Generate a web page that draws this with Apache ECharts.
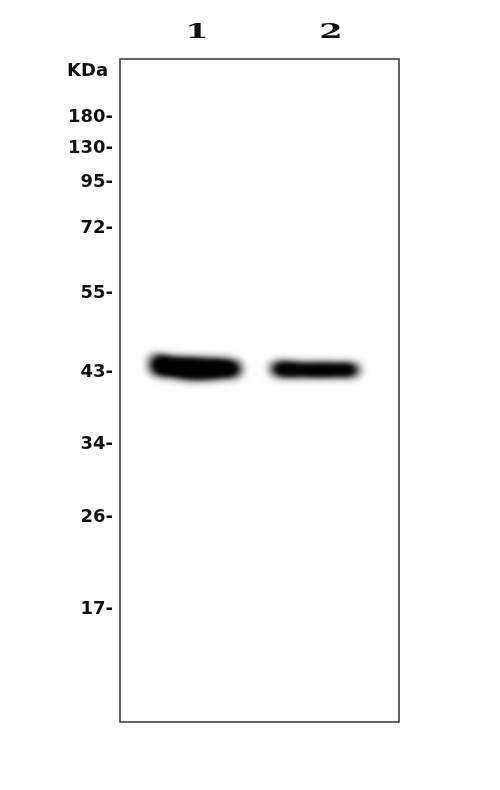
<!DOCTYPE html>
<html><head><meta charset="utf-8">
<script src="https://cdn.jsdelivr.net/npm/echarts@6/dist/echarts.min.js"></script>
<style>html,body{margin:0;padding:0;background:#fff}#c{width:500px;height:790px}</style>
</head><body><div id="c"></div>
<script>
// Molecular weight markers (kDa) and their migration (% of gel height from top)
const markerLabels = ['180', '130', '95', '72', '55', '43', '34', '26', '17'];
const markerPos = [8.75, 13.4, 18.6, 25.5, 35.4, 47.2, 58.1, 69.2, 83.0];
// Lanes
const laneNames = ['1', '2'];
const laneLabelX = [27.6, 75.6];
// Detected bands: lane x-position (% of gel width), migration, relative intensity
const bandLaneX = [27.0, 70.0];
const bandPos = [46.6, 46.9];
const bandIntensity = [1.0, 0.95];

// band outline shapes (pixel offsets from band centre), style only
const bandShapes = [
  [[-44, -12], [-20, -11], [5, -10], [44, -6], [45, 7], [30, 10], [0, 12], [-25, 9], [-44, 5]],
  [[-43, -7], [-10, -7], [20, -7], [43, -5], [43, 5], [20, 7], [-10, 7], [-43, 5]]
];
const OFF = 3000;

const chart = echarts.init(document.getElementById('c'), null, {renderer: 'canvas'});
const bandData = bandLaneX.map((x, i) => [x, bandPos[i], bandIntensity[i]]);

function bandLayer(alphaScale, shrink, blur) {
  return {
    type: 'custom',
    data: bandData,
    silent: true,
    clip: false,
    renderItem: function (params, api) {
      const c = api.coord([api.value(0), api.value(1)]);
      const k = Math.min(1, api.value(2) * alphaScale);
      const shape = bandShapes[params.dataIndex];
      return {
        type: 'polygon',
        shape: {points: shape.map(p => [c[0] + p[0] * shrink - OFF, c[1] + p[1] * shrink]), smooth: 0.35},
        style: {
          fill: '#000',
          shadowBlur: blur,
          shadowOffsetX: OFF,
          shadowColor: 'rgba(0,0,0,' + k + ')'
        }
      };
    }
  };
}

chart.setOption({
  backgroundColor: '#ffffff',
  animation: false,
  grid: {left: 120, top: 59, width: 279, height: 663, show: true, borderColor: '#333', borderWidth: 1.5, backgroundColor: '#fff'},
  xAxis: {type: 'value', min: 0, max: 100, show: false},
  yAxis: {
    type: 'value', inverse: true, min: 0, max: 100,
    axisLine: {show: false}, axisTick: {show: false}, splitLine: {show: false},
    axisLabel: {
      customValues: markerPos,
      margin: 7,
      color: '#111',
      fontFamily: 'DejaVu Sans',
      fontWeight: 'bold',
      fontSize: 18,
      formatter: function (v) {
        let best = 0;
        markerPos.forEach((p, i) => { if (Math.abs(p - v) < Math.abs(markerPos[best] - v)) best = i; });
        return markerLabels[best] + '-';
      }
    }
  },
  series: [bandLayer(1.0, 1.0, 8), bandLayer(1.0, 0.85, 5)]
});

function drawText() {
  const g = [];
  laneNames.forEach((n, i) => {
    const p = chart.convertToPixel({gridIndex: 0}, [laneLabelX[i], 0]);
    g.push({
      type: 'text', x: p[0], y: 33, scaleX: 1.6,
      style: {text: n, fontFamily: 'DejaVu Serif', fontWeight: 'bold', fontSize: 21, fill: '#111', align: 'center', verticalAlign: 'middle'}
    });
  });
  g.push({
    type: 'text', x: 67, y: 71,
    style: {text: 'KDa', fontFamily: 'DejaVu Sans', fontWeight: 'bold', fontSize: 18, fill: '#111', align: 'left', verticalAlign: 'middle'}
  });
  chart.setOption({graphic: g});
}
drawText();
</script>
</body></html>
